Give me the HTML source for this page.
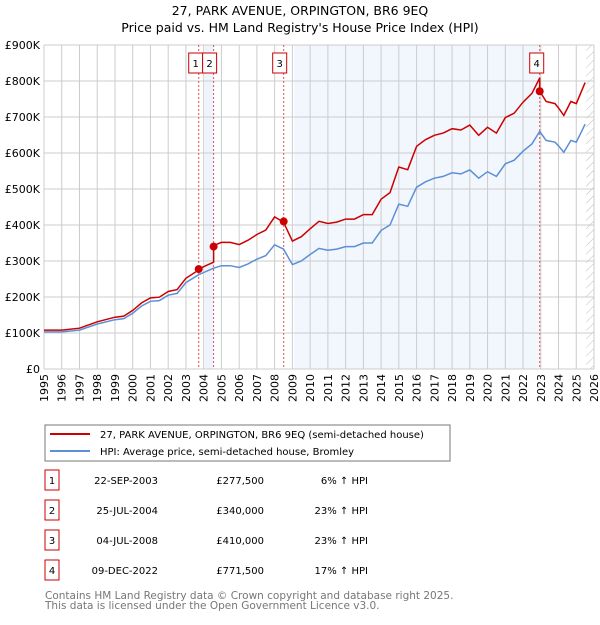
<!DOCTYPE html>
<html><head><meta charset="utf-8"><style>
body{margin:0;background:#fff;font-family:"Liberation Sans","DejaVu Sans",sans-serif}
svg text{font-family:"DejaVu Sans","Liberation Sans",sans-serif}
</style></head><body>
<svg id="c" width="600" height="620" viewBox="0 0 600 620" xmlns="http://www.w3.org/2000/svg">
<text x="300" y="15" text-anchor="middle" font-size="12.5" fill="#000">27, PARK AVENUE, ORPINGTON, BR6 9EQ</text>
<text x="300" y="32" text-anchor="middle" font-size="12.5" fill="#000">Price paid vs. HM Land Registry's House Price Index (HPI)</text>
<defs><pattern id="h" width="6" height="6" patternUnits="userSpaceOnUse" patternTransform="rotate(45)"><line x1="0" y1="0" x2="0" y2="6" stroke="#bbb" stroke-width="1"/></pattern></defs>
<g id="plot"></g>
<rect x="45" y="425" width="405" height="36" fill="#fff" stroke="#777"/>
<line x1="50" y1="434" x2="90" y2="434" stroke="#cc0000" stroke-width="2"/>
<text x="100" y="438" font-size="10">27, PARK AVENUE, ORPINGTON, BR6 9EQ (semi-detached house)</text>
<line x1="50" y1="451" x2="90" y2="451" stroke="#5b8fd6" stroke-width="2"/>
<text x="100" y="455" font-size="10">HPI: Average price, semi-detached house, Bromley</text>
<g id="tbl" font-size="10"></g>
<text x="45" y="599" font-size="10.5" fill="#777">Contains HM Land Registry data © Crown copyright and database right 2025.</text>
<text x="45" y="609" font-size="10.5" fill="#777">This data is licensed under the Open Government Licence v3.0.</text>
</svg>
<script>
const hpiYears=[1995,1996,1997,1998,1999,1999.5,2000,2000.5,2001,2001.5,2002,2002.5,2003,2003.72,2004,2004.56,2005,2005.5,2006,2006.5,2007,2007.5,2008,2008.5,2009,2009.5,2010,2010.5,2011,2011.5,2012,2012.5,2013,2013.5,2014,2014.5,2015,2015.5,2016,2016.5,2017,2017.5,2018,2018.5,2019,2019.5,2020,2020.5,2021,2021.5,2022,2022.5,2022.94,2023.3,2023.8,2024,2024.3,2024.7,2025,2025.5];
const hpiValues=[103,103,108,125,137,140,155,175,188,190,205,210,240,262,268,280,287,287,282,292,305,315,345,333,290,300,318,335,330,333,340,340,350,350,385,400,458,452,505,520,530,535,545,542,553,530,548,535,570,580,605,625,660,635,630,620,602,635,630,680];
const ratioBreaks=[2003.72,2004.56,2022.94];
const ratioValues=[1.05,1.06,1.225,1.17];
const saleYears=[2003.72,2004.56,2008.51,2022.94];
const salePrices=[277500,340000,410000,771500];
const saleLabels=["1","2","3","4"];
const saleDates=["22-SEP-2003","25-JUL-2004","04-JUL-2008","09-DEC-2022"];
const salePriceText=["£277,500","£340,000","£410,000","£771,500"];
const saleHpiText=["6% ↑ HPI","23% ↑ HPI","23% ↑ HPI","17% ↑ HPI"];
const yTicks=[0,100,200,300,400,500,600,700,800,900];
const yTickLabels=["£0","£100K","£200K","£300K","£400K","£500K","£600K","£700K","£800K","£900K"];
const X0=44,X1=594,Y0=369,Y1=45;
const x=y=>X0+(y-1995)/31*(X1-X0);
const yv=v=>Y0-v/900*(Y0-Y1);
const NS="http://www.w3.org/2000/svg";
const g=document.getElementById('plot');
function mk(t,a,p){const e=document.createElementNS(NS,t);for(const k in a)e.setAttribute(k,a[k]);(p||g).appendChild(e);return e;}
let e;
e=mk('rect',{x:X0,y:Y1,width:X1-X0,height:Y0-Y1,fill:'#fff'});


e=mk('rect',{x:x(2004.07),y:Y1,width:x(2004.56)-x(2004.07),height:Y0-Y1,fill:'#eef3fc'});


e=mk('rect',{x:x(2009.1),y:Y1,width:x(2022.94)-x(2009.1),height:Y0-Y1,fill:'#f2f6fd'});


e=mk('rect',{x:x(2025.56),y:Y1,width:X1-x(2025.56),height:Y0-Y1,fill:'url(#h)'});


for(let yr=1995;yr<=2026;yr++){
 e=mk('line',{x1:x(yr),x2:x(yr),y1:Y1,y2:Y0,stroke:'#ccc','stroke-width':1});
 
 
 e=mk('text',{x:0,y:0,'font-size':11,'text-anchor':'end',transform:`translate(${x(yr)+4},${Y0+5}) rotate(-90)`});
 e.textContent=yr;
 
 
}
yTicks.forEach((t,i)=>{
 e=mk('line',{x1:X0,x2:X1,y1:yv(t),y2:yv(t),stroke:'#ccc','stroke-width':1});
 
 
 e=mk('text',{x:X0-4,y:yv(t)+4,'font-size':11,'text-anchor':'end'});
 e.textContent=yTickLabels[i];
 
 
});
saleYears.forEach((s,i)=>{
 e=mk('line',{x1:x(s),x2:x(s),y1:Y1,y2:Y0,stroke:'#e05050','stroke-width':1,'stroke-dasharray':'2,2'});
 
 
});
function ratio(yr){let k=0;while(k<ratioBreaks.length&&yr>=ratioBreaks[k])k++;return ratioValues[k];}
let hp='',rp='';
hpiYears.forEach((yr,i)=>{
 hp+=(i?'L':'M')+x(yr).toFixed(1)+','+yv(hpiValues[i]).toFixed(1);
 if(i>0&&ratioBreaks.includes(yr)){rp+='L'+x(yr).toFixed(1)+','+yv(hpiValues[i]*ratio(yr-0.001)).toFixed(1);}
 rp+=(i?'L':'M')+x(yr).toFixed(1)+','+yv(hpiValues[i]*ratio(yr)).toFixed(1);
});
e=mk('path',{d:hp,fill:'none',stroke:'#5b8fd6','stroke-width':1.5});


e=mk('path',{d:rp,fill:'none',stroke:'#cc0000','stroke-width':1.5});


const badgeOffsets=[-10,-11,-11,-10];
saleYears.forEach((s,i)=>{
 e=mk('circle',{cx:x(s),cy:yv(salePrices[i]/1000),r:4,fill:'#cc0000'});
 
 
 let bx=x(s)+badgeOffsets[i];
 e=mk('rect',{x:bx,y:53,width:14,height:20,fill:'#fff',stroke:'#cc0000'});
 
 
 e=mk('text',{x:bx+7,y:67,'font-size':10,'text-anchor':'middle'});
 e.textContent=saleLabels[i];
 
 
});
const tb=document.getElementById('tbl');
saleLabels.forEach((l,i)=>{
 const yy=483+i*30;
 e=mk('rect',{x:45,y:yy-13,width:14,height:20,fill:'#fff',stroke:'#cc0000'},tb);
 
 
 e=mk('text',{x:52,y:yy+1,'text-anchor':'middle'},tb);e.textContent=l;
 
 
 e=mk('text',{x:158,y:yy+1,'text-anchor':'end'},tb);e.textContent=saleDates[i];
 
 
 e=mk('text',{x:264,y:yy+1,'text-anchor':'end'},tb);e.textContent=salePriceText[i];
 
 
 e=mk('text',{x:368,y:yy+1,'text-anchor':'end'},tb);e.textContent=saleHpiText[i];
 
 
});
</script>
</body></html>
